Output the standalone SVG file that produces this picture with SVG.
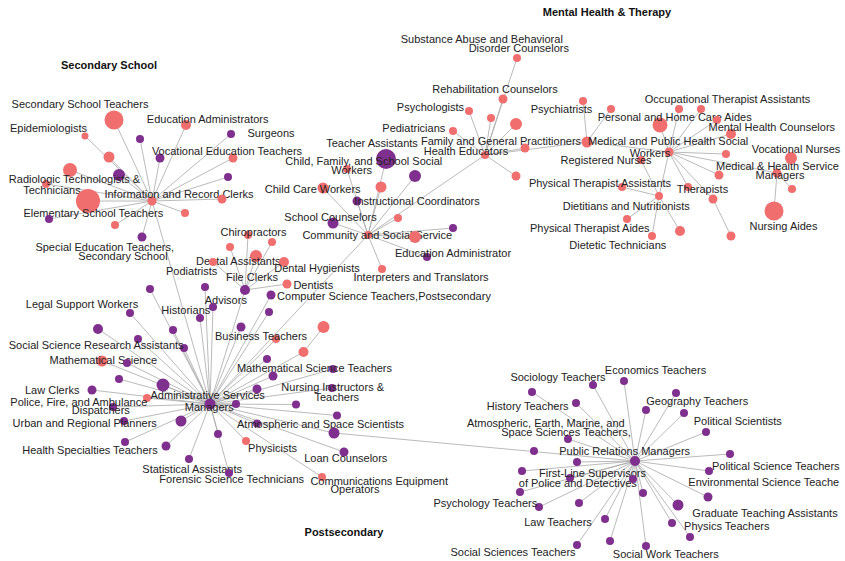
<svg xmlns="http://www.w3.org/2000/svg" width="845" height="561" viewBox="0 0 845 561">
<style>
.e line{stroke:#a8a8a8;stroke-width:0.8}
.s{fill:#f06e6e}
.p{fill:#7f2f8d}
text{font-family:"Liberation Sans",Arial,sans-serif;font-size:11px;fill:#222;text-anchor:middle}
text.h{font-weight:bold;fill:#111}
</style>
<rect width="845" height="561" fill="#fff"/>
<g id="titles">
<text class="h" x="109" y="69">Secondary School</text>
<text class="h" x="607" y="16">Mental Health &amp; Therapy</text>
<text class="h" x="344" y="536">Postsecondary</text>
</g>
<g id="edges" class="e">
<!-- Information and Record Clerks hub -->
<line x1="152" y1="201" x2="114" y2="120"/><line x1="152" y1="201" x2="85" y2="136"/><line x1="152" y1="201" x2="109" y2="157"/>
<line x1="152" y1="201" x2="70" y2="170"/><line x1="152" y1="201" x2="119" y2="175"/><line x1="152" y1="201" x2="46" y2="184"/>
<line x1="152" y1="201" x2="88" y2="201"/><line x1="152" y1="201" x2="49" y2="219"/><line x1="152" y1="201" x2="115" y2="225"/>
<line x1="152" y1="201" x2="140" y2="139"/><line x1="152" y1="201" x2="160" y2="158"/><line x1="152" y1="201" x2="186" y2="125"/>
<line x1="152" y1="201" x2="231" y2="134"/><line x1="152" y1="201" x2="233" y2="158"/><line x1="152" y1="201" x2="228" y2="177"/>
<line x1="152" y1="201" x2="222" y2="199"/><line x1="152" y1="201" x2="185" y2="213"/><line x1="152" y1="201" x2="142" y2="237"/>
<line x1="152" y1="201" x2="210" y2="404"/>
<!-- Community hub -->
<line x1="368" y1="235" x2="386" y2="159"/><line x1="368" y1="235" x2="415" y2="176"/><line x1="368" y1="235" x2="347" y2="169"/>
<line x1="368" y1="235" x2="381" y2="187"/><line x1="368" y1="235" x2="323" y2="188"/><line x1="368" y1="235" x2="357" y2="201"/>
<line x1="368" y1="235" x2="398" y2="218"/><line x1="368" y1="235" x2="333" y2="223"/><line x1="368" y1="235" x2="453" y2="228"/>
<line x1="368" y1="235" x2="415" y2="237"/><line x1="368" y1="235" x2="427" y2="257"/><line x1="368" y1="235" x2="382" y2="269"/>
<line x1="368" y1="235" x2="485" y2="155"/><line x1="368" y1="235" x2="210" y2="404"/>
<!-- Health Educators hub -->
<line x1="485" y1="155" x2="517" y2="58"/><line x1="485" y1="155" x2="503" y2="99"/><line x1="485" y1="155" x2="469" y2="111"/>
<line x1="485" y1="155" x2="491" y2="118"/><line x1="485" y1="155" x2="516" y2="124"/><line x1="485" y1="155" x2="453" y2="131"/>
<line x1="485" y1="155" x2="525" y2="148"/><line x1="485" y1="155" x2="516" y2="176"/><line x1="485" y1="155" x2="587" y2="142"/>
<line x1="587" y1="142" x2="583" y2="101"/><line x1="587" y1="142" x2="611" y2="109"/><line x1="587" y1="142" x2="669" y2="152"/>
<!-- Medical and Public Health Social Workers hub -->
<line x1="669" y1="152" x2="660" y2="125"/><line x1="669" y1="152" x2="679" y2="109"/><line x1="669" y1="152" x2="701" y2="109"/>
<line x1="669" y1="152" x2="717" y2="120"/><line x1="669" y1="152" x2="731" y2="134"/><line x1="669" y1="152" x2="726" y2="154"/>
<line x1="669" y1="152" x2="719" y2="175"/><line x1="669" y1="152" x2="688" y2="187"/><line x1="669" y1="152" x2="713" y2="199"/>
<line x1="669" y1="152" x2="659" y2="196"/><line x1="669" y1="152" x2="777" y2="173"/>
<line x1="713" y1="199" x2="731" y2="236"/>
<line x1="659" y1="196" x2="641" y2="160"/><line x1="659" y1="196" x2="622" y2="187"/><line x1="659" y1="196" x2="627" y2="219"/>
<line x1="659" y1="196" x2="652" y2="236"/><line x1="659" y1="196" x2="680" y2="231"/>
<line x1="777" y1="173" x2="791" y2="158"/><line x1="777" y1="173" x2="792" y2="189"/><line x1="777" y1="173" x2="774" y2="211"/>
<!-- File Clerks hub -->
<line x1="245" y1="290" x2="248" y2="235"/><line x1="245" y1="290" x2="230" y2="247"/><line x1="245" y1="290" x2="272" y2="242"/>
<line x1="245" y1="290" x2="256" y2="256"/><line x1="245" y1="290" x2="284" y2="262"/><line x1="245" y1="290" x2="213" y2="262"/>
<line x1="245" y1="290" x2="287" y2="284"/><line x1="245" y1="290" x2="210" y2="404"/>
<!-- Administrative Services Managers hub -->
<line x1="210" y1="404" x2="205" y2="287"/><line x1="210" y1="404" x2="213" y2="307"/><line x1="210" y1="404" x2="200" y2="318"/>
<line x1="210" y1="404" x2="173" y2="330"/><line x1="210" y1="404" x2="184" y2="348"/><line x1="210" y1="404" x2="150" y2="289"/>
<line x1="210" y1="404" x2="130" y2="313"/><line x1="210" y1="404" x2="98" y2="329"/><line x1="210" y1="404" x2="138" y2="339"/>
<line x1="210" y1="404" x2="102" y2="361"/><line x1="210" y1="404" x2="127" y2="363"/><line x1="210" y1="404" x2="119" y2="379"/>
<line x1="210" y1="404" x2="163" y2="385"/><line x1="210" y1="404" x2="92" y2="390"/><line x1="210" y1="404" x2="147" y2="398"/>
<line x1="210" y1="404" x2="113" y2="407"/><line x1="210" y1="404" x2="124" y2="421"/><line x1="210" y1="404" x2="181" y2="421"/>
<line x1="210" y1="404" x2="125" y2="442"/><line x1="210" y1="404" x2="166" y2="446"/><line x1="210" y1="404" x2="189" y2="459"/>
<line x1="210" y1="404" x2="218" y2="434"/><line x1="210" y1="404" x2="229" y2="473"/><line x1="210" y1="404" x2="246" y2="441"/>
<line x1="210" y1="404" x2="236" y2="404"/><line x1="210" y1="404" x2="257" y2="423.5"/><line x1="210" y1="404" x2="296" y2="404.5"/>
<line x1="210" y1="404" x2="337" y2="415.5"/><line x1="210" y1="404" x2="334" y2="433"/><line x1="210" y1="404" x2="344" y2="452"/>
<line x1="210" y1="404" x2="322" y2="477"/><line x1="210" y1="404" x2="241" y2="327"/><line x1="210" y1="404" x2="276" y2="339"/>
<line x1="210" y1="404" x2="269" y2="312"/><line x1="210" y1="404" x2="303.5" y2="352"/><line x1="210" y1="404" x2="267" y2="359"/>
<line x1="210" y1="404" x2="273" y2="376"/><line x1="210" y1="404" x2="333" y2="369"/><line x1="210" y1="404" x2="257" y2="389"/>
<line x1="210" y1="404" x2="332" y2="388"/><line x1="210" y1="404" x2="271" y2="295"/>
<line x1="303.5" y1="352" x2="323.5" y2="327"/>
<line x1="334" y1="433" x2="635" y2="461"/>
<!-- Public Relations Managers hub -->
<line x1="635" y1="461" x2="593" y2="385"/><line x1="635" y1="461" x2="624" y2="381"/><line x1="635" y1="461" x2="532" y2="392"/>
<line x1="635" y1="461" x2="676" y2="393"/><line x1="635" y1="461" x2="646" y2="410"/><line x1="635" y1="461" x2="684" y2="413"/>
<line x1="635" y1="461" x2="576" y2="403"/><line x1="635" y1="461" x2="706" y2="432"/><line x1="635" y1="461" x2="568" y2="439"/>
<line x1="635" y1="461" x2="730" y2="454"/><line x1="635" y1="461" x2="577" y2="462"/><line x1="635" y1="461" x2="522" y2="471"/>
<line x1="635" y1="461" x2="709" y2="471"/><line x1="635" y1="461" x2="570" y2="478"/><line x1="635" y1="461" x2="633" y2="479"/>
<line x1="635" y1="461" x2="520" y2="492"/><line x1="635" y1="461" x2="643" y2="493"/><line x1="635" y1="461" x2="539" y2="507"/>
<line x1="635" y1="461" x2="579" y2="503"/><line x1="635" y1="461" x2="678" y2="505"/><line x1="635" y1="461" x2="708" y2="497"/>
<line x1="635" y1="461" x2="605" y2="519"/><line x1="635" y1="461" x2="672" y2="523"/><line x1="635" y1="461" x2="690" y2="537"/>
<line x1="635" y1="461" x2="577" y2="545"/><line x1="635" y1="461" x2="610" y2="541"/><line x1="635" y1="461" x2="646" y2="546"/>
</g>
<!-- ===== Secondary School cluster ===== -->
<g id="information-record-clerks"><circle class="s" cx="152" cy="201" r="4.5"/><text x="179" y="198">Information and Record Clerks</text></g>
<g id="secondary-school-teachers"><circle class="s" cx="114" cy="120" r="9.5"/><text x="80" y="108">Secondary School Teachers</text></g>
<g id="epidemiologists"><circle class="s" cx="85" cy="136" r="3.5"/><text x="48.5" y="131.5">Epidemiologists</text></g>
<g id="n-i3"><circle class="s" cx="109" cy="157" r="5.5"/></g>
<g id="n-i4"><circle class="s" cx="70" cy="170" r="7"/></g>
<g id="n-i5"><circle class="p" cx="119" cy="175" r="6"/></g>
<g id="radiologic"><circle class="s" cx="46" cy="184" r="4"/><text x="74.5" y="182.7">Radiologic Technologists &amp;</text><text x="52" y="194">Technicians</text></g>
<g id="elementary-school-teachers"><circle class="s" cx="88" cy="201" r="12"/><text x="93.3" y="217">Elementary School Teachers</text></g>
<g id="n-i8"><circle class="p" cx="49" cy="219" r="4"/></g>
<g id="n-i9"><circle class="s" cx="115" cy="225" r="4"/></g>
<g id="n-i10"><circle class="p" cx="140" cy="139" r="4"/></g>
<g id="n-i11"><circle class="p" cx="160" cy="158" r="4.5"/></g>
<g id="education-administrators"><circle class="s" cx="186" cy="125" r="5"/><text x="207.7" y="122.7">Education Administrators</text></g>
<g id="surgeons"><circle class="p" cx="231" cy="134" r="4"/><text x="271" y="137">Surgeons</text></g>
<g id="vocational-education-teachers"><circle class="s" cx="233" cy="158" r="4.5"/><text x="227" y="154.7">Vocational Education Teachers</text></g>
<g id="n-i15"><circle class="p" cx="228" cy="177" r="4"/></g>
<g id="n-i16"><circle class="s" cx="222" cy="199" r="4.5"/></g>
<g id="n-i17"><circle class="s" cx="185" cy="213" r="4"/></g>
<g id="special-education"><circle class="p" cx="142" cy="237" r="4.5"/><text x="104.7" y="251.3">Special Education Teachers,</text><text x="123" y="259.7">Secondary School</text></g>
<!-- ===== Community cluster ===== -->
<g id="community-social-service"><circle class="s" cx="368" cy="235" r="4"/><text x="377.3" y="239">Community and Social Service</text></g>
<g id="teacher-assistants"><circle class="p" cx="386" cy="159" r="10"/><text x="372" y="147.3">Teacher Assistants</text></g>
<g id="n-c2"><circle class="p" cx="415" cy="176" r="6"/></g>
<g id="child-family-school-social-workers"><circle class="s" cx="347" cy="169" r="4"/><text x="363.8" y="165">Child, Family, and School Social</text><text x="351.7" y="173.7">Workers</text></g>
<g id="n-c4"><circle class="s" cx="381" cy="187" r="5.5"/></g>
<g id="child-care-workers"><circle class="s" cx="323" cy="188" r="5.5"/><text x="312.7" y="193">Child Care Workers</text></g>
<g id="instructional-coordinators"><circle class="p" cx="357" cy="201" r="4.5"/><text x="417" y="205">Instructional Coordinators</text></g>
<g id="n-c7"><circle class="s" cx="398" cy="218" r="4"/></g>
<g id="school-counselors"><circle class="p" cx="333" cy="223" r="5.5"/><text x="330.5" y="221">School Counselors</text></g>
<g id="n-c9"><circle class="p" cx="453" cy="228" r="4"/></g>
<g id="n-c10"><circle class="s" cx="415" cy="237" r="6"/></g>
<g id="education-administrator"><circle class="p" cx="427" cy="257" r="4"/><text x="453" y="257.3">Education Administrator</text></g>
<g id="interpreters"><circle class="s" cx="382" cy="269" r="4"/><text x="421" y="281">Interpreters and Translators</text></g>
<!-- ===== Health Educators cluster ===== -->
<g id="health-educators"><circle class="s" cx="485" cy="155" r="4"/><text x="466" y="155">Health Educators</text></g>
<g id="substance-abuse"><circle class="s" cx="517" cy="58" r="4"/><text x="481.8" y="42.7">Substance Abuse and Behavioral</text><text x="518.8" y="51.7">Disorder Counselors</text></g>
<g id="rehabilitation-counselors"><circle class="s" cx="503" cy="99" r="4.5"/><text x="495" y="93.3">Rehabilitation Counselors</text></g>
<g id="psychologists"><circle class="s" cx="469" cy="111" r="4"/><text x="430.5" y="111.3">Psychologists</text></g>
<g id="n-h4"><circle class="s" cx="491" cy="118" r="4"/></g>
<g id="n-h5"><circle class="s" cx="516" cy="124" r="6"/></g>
<g id="pediatricians"><circle class="s" cx="453" cy="131" r="4"/><text x="413.8" y="132.3">Pediatricians</text></g>
<g id="n-h7"><circle class="s" cx="525" cy="148" r="4.5"/></g>
<g id="n-h8"><circle class="s" cx="516" cy="176" r="4.5"/></g>
<g id="family-general-practitioners"><circle class="s" cx="587" cy="142" r="5.5"/><text x="501" y="144.7">Family and General Practitioners</text></g>
<g id="psychiatrists"><circle class="s" cx="583" cy="101" r="4"/><text x="561.5" y="113.3">Psychiatrists</text></g>
<g id="n-h11"><circle class="s" cx="611" cy="109" r="4"/></g>
<!-- ===== Medical and Public Health Social Workers cluster ===== -->
<g id="medical-public-health-social-workers"><circle class="s" cx="669" cy="152" r="4.5"/><text x="668.2" y="145.3">Medical and Public Health Social</text><text x="650" y="157">Workers</text></g>
<g id="personal-home-care-aides"><circle class="s" cx="660" cy="125" r="7.5"/><text x="674.7" y="120.7">Personal and Home Care Aides</text></g>
<g id="occupational-therapist-assistants"><circle class="s" cx="679" cy="109" r="4"/><text x="727.5" y="103">Occupational Therapist Assistants</text></g>
<g id="n-m2"><circle class="s" cx="701" cy="109" r="4"/></g>
<g id="n-m3"><circle class="s" cx="717" cy="120" r="4"/></g>
<g id="mental-health-counselors"><circle class="s" cx="731" cy="134" r="5"/><text x="771.8" y="130.7">Mental Health Counselors</text></g>
<g id="n-m5"><circle class="s" cx="726" cy="154" r="4"/></g>
<g id="n-m6"><circle class="s" cx="719" cy="175" r="4.5"/></g>
<g id="n-m7"><circle class="s" cx="688" cy="187" r="4"/></g>
<g id="therapists"><circle class="s" cx="713" cy="199" r="4.5"/><text x="702.5" y="192.7">Therapists</text></g>
<g id="n-m9"><circle class="s" cx="731" cy="236" r="4.5"/></g>
<g id="registered-nurses"><circle class="s" cx="641" cy="160" r="4"/><text x="606" y="164">Registered Nurses</text></g>
<g id="dietitians-nutritionists"><circle class="s" cx="659" cy="196" r="4"/><text x="626.3" y="210">Dietitians and Nutritionists</text></g>
<g id="physical-therapist-assistants"><circle class="s" cx="622" cy="187" r="4"/><text x="600" y="187.3">Physical Therapist Assistants</text></g>
<g id="physical-therapist-aides"><circle class="s" cx="627" cy="219" r="4"/><text x="589.8" y="231.7">Physical Therapist Aides</text></g>
<g id="dietetic-technicians"><circle class="s" cx="652" cy="236" r="4"/><text x="617.8" y="249">Dietetic Technicians</text></g>
<g id="n-d5"><circle class="s" cx="680" cy="231" r="5"/></g>
<g id="medical-health-services-managers"><circle class="s" cx="777" cy="173" r="4.5"/><text x="777.5" y="169.7">Medical &amp; Health Service</text><text x="780" y="179">Managers</text></g>
<g id="vocational-nurses"><circle class="s" cx="791" cy="158" r="6"/><text x="796" y="153">Vocational Nurses</text></g>
<g id="n-mm2"><circle class="s" cx="792" cy="189" r="4"/></g>
<g id="nursing-aides"><circle class="s" cx="774" cy="211" r="9.5"/><text x="783.5" y="230">Nursing Aides</text></g>
<!-- ===== File Clerks cluster ===== -->
<g id="file-clerks"><circle class="p" cx="245" cy="290" r="5"/><text x="252" y="281">File Clerks</text></g>
<g id="chiropractors"><circle class="s" cx="248" cy="235" r="4"/><text x="253.5" y="235.7">Chiropractors</text></g>
<g id="n-f2"><circle class="s" cx="230" cy="247" r="4"/></g>
<g id="n-f3"><circle class="s" cx="272" cy="242" r="4"/></g>
<g id="dental-assistants"><circle class="s" cx="256" cy="256" r="6"/><text x="238.3" y="264.7">Dental Assistants</text></g>
<g id="dental-hygienists"><circle class="s" cx="284" cy="262" r="5"/><text x="317" y="272.3">Dental Hygienists</text></g>
<g id="podiatrists"><circle class="s" cx="213" cy="262" r="4"/><text x="191.7" y="274.7">Podiatrists</text></g>
<g id="dentists"><circle class="s" cx="287" cy="284" r="4.5"/><text x="313.3" y="289">Dentists</text></g>
<g id="computer-science-teachers"><circle class="p" cx="271" cy="295" r="4.5"/><text x="384" y="300">Computer Science Teachers,Postsecondary</text></g>
<!-- ===== Administrative Services Managers cluster ===== -->
<g id="administrative-services-managers"><circle class="p" cx="210" cy="404" r="5.5"/><text x="207.7" y="399">Administrative Services</text><text x="209.3" y="411.3">Managers</text></g>
<g id="advisors"><circle class="p" cx="205" cy="287" r="4"/><text x="225.8" y="304">Advisors</text></g>
<g id="n-a2"><circle class="p" cx="213" cy="307" r="4"/></g>
<g id="historians"><circle class="p" cx="200" cy="318" r="4"/><text x="185.8" y="314.3">Historians</text></g>
<g id="n-a4"><circle class="p" cx="173" cy="330" r="4"/></g>
<g id="n-a5"><circle class="p" cx="184" cy="348" r="4"/></g>
<g id="n-a6"><circle class="p" cx="150" cy="289" r="4"/></g>
<g id="legal-support-workers"><circle class="p" cx="130" cy="313" r="4"/><text x="82" y="308">Legal Support Workers</text></g>
<g id="n-a8"><circle class="p" cx="98" cy="329" r="5"/></g>
<g id="social-science-research-assistants"><circle class="p" cx="138" cy="339" r="4"/><text x="96.2" y="349">Social Science Research Assistants</text></g>
<g id="mathematical-science"><circle class="s" cx="102" cy="361" r="5.5"/><text x="103.3" y="363.7">Mathematical Science</text></g>
<g id="n-a11"><circle class="p" cx="127" cy="363" r="4"/></g>
<g id="n-a12"><circle class="p" cx="119" cy="379" r="4"/></g>
<g id="n-a13"><circle class="p" cx="163" cy="385" r="6.5"/></g>
<g id="law-clerks"><circle class="p" cx="92" cy="390" r="4.5"/><text x="52.2" y="394.3">Law Clerks</text></g>
<g id="n-a15"><circle class="s" cx="147" cy="398" r="4"/></g>
<g id="dispatchers"><circle class="p" cx="113" cy="407" r="4"/><text x="78.8" y="406">Police, Fire, and Ambulance</text><text x="100.8" y="414.3">Dispatchers</text></g>
<g id="urban-regional-planners"><circle class="p" cx="124" cy="421" r="4"/><text x="84.7" y="427.3">Urban and Regional Planners</text></g>
<g id="n-a18"><circle class="p" cx="181" cy="421" r="5.5"/></g>
<g id="n-a19"><circle class="p" cx="125" cy="442" r="4"/></g>
<g id="health-specialties-teachers"><circle class="p" cx="166" cy="446" r="4.5"/><text x="90" y="454.3">Health Specialties Teachers</text></g>
<g id="statistical-assistants"><circle class="p" cx="189" cy="459" r="4"/><text x="192.2" y="472.7">Statistical Assistants</text></g>
<g id="n-a22"><circle class="p" cx="218" cy="434" r="4"/></g>
<g id="forensic-science-technicians"><circle class="p" cx="229" cy="473" r="4"/><text x="231.7" y="482.7">Forensic Science Technicians</text></g>
<g id="physicists"><circle class="s" cx="246" cy="441" r="4"/><text x="272.5" y="452">Physicists</text></g>
<g id="n-a25"><circle class="p" cx="236" cy="404" r="4"/></g>
<g id="atmospheric-space-scientists"><circle class="p" cx="257" cy="423.5" r="4"/><text x="320.5" y="427.7">Atmospheric and Space Scientists</text></g>
<g id="n-a27"><circle class="p" cx="296" cy="404.5" r="4"/></g>
<g id="n-a28"><circle class="p" cx="337" cy="415.5" r="4"/></g>
<g id="n-a29"><circle class="p" cx="334" cy="433" r="5.5"/></g>
<g id="loan-counselors"><circle class="p" cx="344" cy="452" r="4.5"/><text x="345.8" y="462.3">Loan Counselors</text></g>
<g id="communications-equipment-operators"><circle class="s" cx="322" cy="477" r="4"/><text x="379.2" y="484.7">Communications Equipment</text><text x="355" y="493.3">Operators</text></g>
<g id="n-a32"><circle class="p" cx="241" cy="327" r="4.5"/></g>
<g id="business-teachers"><circle class="s" cx="276" cy="339" r="4"/><text x="261" y="339.7">Business Teachers</text></g>
<g id="n-a34"><circle class="p" cx="269" cy="312" r="4"/></g>
<g id="n-a35"><circle class="s" cx="323.5" cy="327" r="6"/></g>
<g id="n-a36"><circle class="s" cx="303.5" cy="352" r="5"/></g>
<g id="n-a37"><circle class="p" cx="267" cy="359" r="4"/></g>
<g id="n-a38"><circle class="p" cx="273" cy="376" r="4.5"/></g>
<g id="mathematical-science-teachers"><circle class="p" cx="333" cy="369" r="4"/><text x="314.5" y="371.7">Mathematical Science Teachers</text></g>
<g id="n-a40"><circle class="p" cx="257" cy="389" r="4.5"/></g>
<g id="nursing-instructors"><circle class="p" cx="332" cy="388" r="4"/><text x="332.7" y="391.3">Nursing Instructors &amp;</text><text x="336.8" y="401.3">Teachers</text></g>
<!-- ===== Public Relations Managers cluster ===== -->
<g id="public-relations-managers"><circle class="p" cx="635" cy="461" r="5"/><text x="624.7" y="454.7">Public Relations Managers</text></g>
<g id="sociology-teachers"><circle class="p" cx="593" cy="385" r="4"/><text x="558" y="381.3">Sociology Teachers</text></g>
<g id="economics-teachers"><circle class="p" cx="624" cy="381" r="4"/><text x="655.5" y="374.3">Economics Teachers</text></g>
<g id="n-p3"><circle class="p" cx="532" cy="392" r="4"/></g>
<g id="n-p4"><circle class="p" cx="676" cy="393" r="4"/></g>
<g id="geography-teachers"><circle class="p" cx="646" cy="410" r="4"/><text x="697.2" y="405.3">Geography Teachers</text></g>
<g id="n-p6"><circle class="p" cx="684" cy="413" r="4"/></g>
<g id="history-teachers"><circle class="p" cx="576" cy="403" r="4"/><text x="527.7" y="409.7">History Teachers</text></g>
<g id="political-scientists"><circle class="p" cx="706" cy="432" r="4"/><text x="737.8" y="424.7">Political Scientists</text></g>
<g id="atmospheric-earth-marine"><circle class="p" cx="568" cy="439" r="4"/><text x="545.8" y="427.3">Atmospheric, Earth, Marine, and</text><text x="566" y="436.3">Space Sciences Teachers,</text></g>
<g id="n-p10"><circle class="p" cx="534" cy="451" r="4"/></g>
<g id="political-science-teachers"><circle class="p" cx="730" cy="454" r="4"/><text x="775.8" y="469.7">Political Science Teachers</text></g>
<g id="n-p12"><circle class="p" cx="577" cy="462" r="4"/></g>
<g id="n-p13"><circle class="p" cx="522" cy="471" r="4"/></g>
<g id="environmental-science-teachers"><circle class="p" cx="709" cy="471" r="4"/><text x="688.3" y="485.7" style="text-anchor:start">Environmental Science Teache</text></g>
<g id="first-line-supervisors"><circle class="p" cx="570" cy="478" r="4"/><text x="592.5" y="476.7">First-Line Supervisors</text><text x="577.8" y="487.3">of Police and Detectives</text></g>
<g id="n-p16"><circle class="p" cx="633" cy="479" r="4"/></g>
<g id="n-p17"><circle class="p" cx="520" cy="492" r="4"/></g>
<g id="n-p18"><circle class="p" cx="643" cy="493" r="4"/></g>
<g id="psychology-teachers"><circle class="p" cx="539" cy="507" r="4"/><text x="485.3" y="506.7">Psychology Teachers</text></g>
<g id="n-p20"><circle class="p" cx="579" cy="503" r="4"/></g>
<g id="n-p21"><circle class="p" cx="678" cy="505" r="5.5"/></g>
<g id="graduate-teaching-assistants"><circle class="p" cx="708" cy="497" r="4.5"/><text x="765" y="516.7">Graduate Teaching Assistants</text></g>
<g id="law-teachers"><circle class="p" cx="605" cy="519" r="4"/><text x="558" y="526.3">Law Teachers</text></g>
<g id="n-p24"><circle class="p" cx="672" cy="523" r="4"/></g>
<g id="physics-teachers"><circle class="p" cx="690" cy="537" r="4"/><text x="726.8" y="530">Physics Teachers</text></g>
<g id="social-sciences-teachers"><circle class="p" cx="577" cy="545" r="4"/><text x="513" y="555.7">Social Sciences Teachers</text></g>
<g id="n-p27"><circle class="p" cx="610" cy="541" r="4"/></g>
<g id="social-work-teachers"><circle class="p" cx="646" cy="546" r="4"/><text x="665.8" y="558">Social Work Teachers</text></g>
</svg>
